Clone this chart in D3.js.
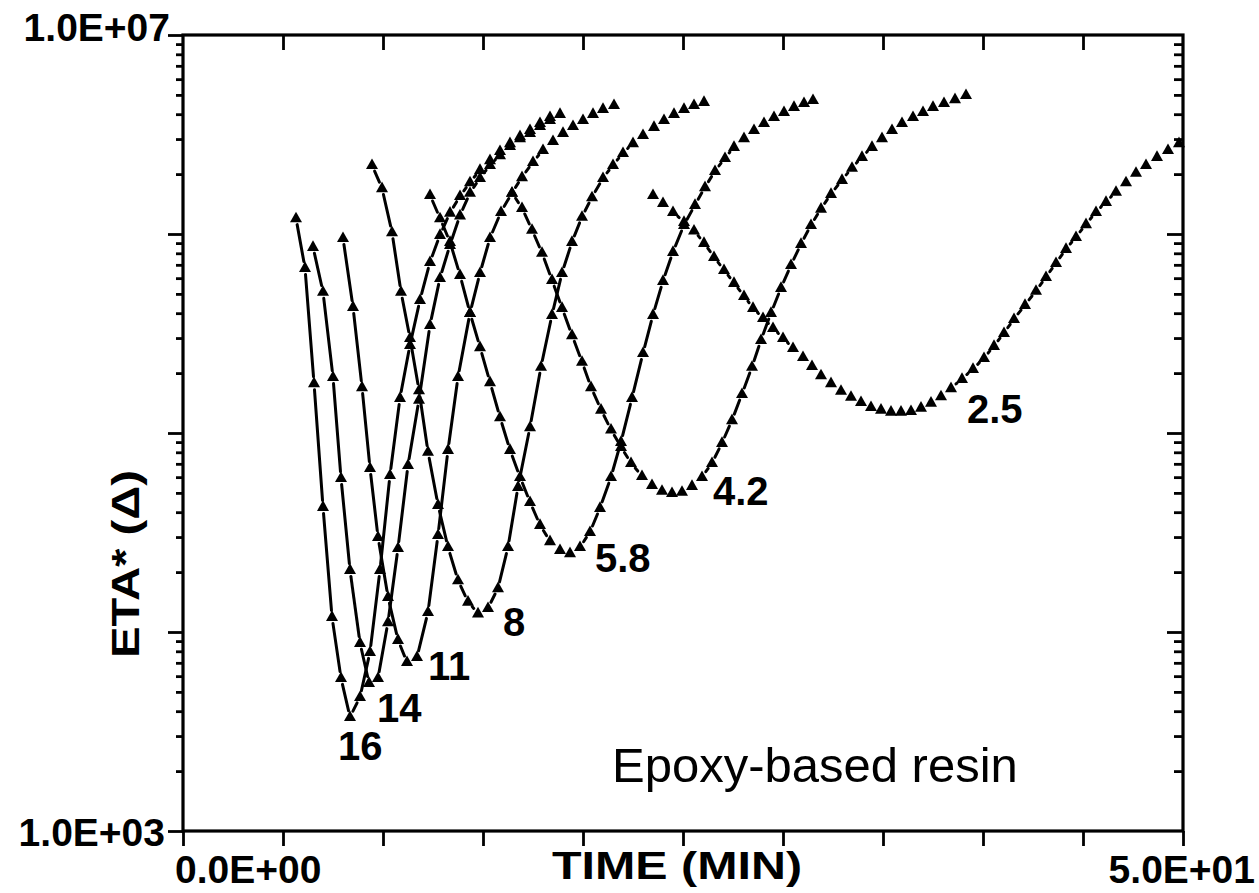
<!DOCTYPE html>
<html>
<head>
<meta charset="utf-8">
<script src="https://cdn.jsdelivr.net/npm/d3@7"></script>
<style>
  html, body { margin: 0; padding: 0; background: #fff; }
  svg { display: block; }
  text { font-family: "Liberation Sans", Arial, Helvetica, sans-serif; fill: #000; }
</style>
</head>
<body>
<svg id="chart" width="1259" height="893"></svg>
<script>
// ---------------- data (time in min, complex viscosity ETA*) ----------------
const seriesNames = ["16", "14", "11", "8", "5.8", "4.2", "2.5"];

const time16 = [5.65,6.10,6.55,7.00,7.45,7.90,8.35,8.85,9.35,9.85,10.35,10.85,11.35,11.85,12.35,12.85,13.35,13.85,14.35,14.85,15.35,15.85,16.35,16.85,17.35,17.85,18.35];
const eta16  = [1.20e6,6.75e5,1.78e5,4.25e4,1.19e4,5.87e3,3.74e3,4.71e3,7.93e3,2.05e4,6.15e4,1.50e5,2.77e5,4.66e5,7.23e5,9.89e5,1.28e6,1.55e6,1.82e6,2.10e6,2.35e6,2.61e6,2.86e6,3.10e6,3.33e6,3.61e6,3.87e6];

const time14 = [6.50,7.00,7.50,7.90,8.35,8.85,9.30,9.75,10.25,10.75,11.25,11.80,12.35,12.85,13.35,13.85,14.35,14.85,15.35,15.85,16.35,16.85,17.35,17.85,18.35,18.85];
const eta14  = [8.61e5,5.12e5,1.91e5,5.94e4,2.05e4,8.81e3,5.55e3,5.87e3,1.12e4,2.64e4,6.90e4,1.47e5,3.49e5,6.01e5,8.81e5,1.24e6,1.61e6,1.91e6,2.22e6,2.49e6,2.77e6,3.03e6,3.22e6,3.49e6,3.74e6,4.01e6];

const time11 = [8.00,8.50,8.95,9.35,9.75,10.25,10.75,11.20,11.70,12.25,12.75,13.25,13.75,14.35,14.85,15.35,15.90,16.45,16.95,17.50,18.00,18.50,19.00,19.50,20.00,20.50,21.00,21.55];
const eta11  = [9.55e5,4.30e5,1.70e5,6.67e4,3.00e4,1.50e4,9.12e3,7.06e3,7.48e3,1.26e4,3.07e4,8.22e4,1.91e5,4.01e5,6.37e5,9.55e5,1.29e6,1.61e6,1.93e6,2.30e6,2.64e6,2.93e6,3.22e6,3.49e6,3.74e6,4.01e6,4.25e6,4.45e6];

const time8 = [9.45,9.95,10.45,10.90,11.35,11.80,12.25,12.75,13.25,13.75,14.25,14.75,15.25,15.75,16.25,16.75,17.35,17.90,18.45,18.95,19.45,19.95,20.45,21.00,21.50,22.00,22.50,23.00,23.55,24.05,24.55,25.05,25.55,26.05];
const eta8  = [2.22e6,1.70e6,1.02e6,5.12e5,3.00e5,1.64e5,8.04e4,4.35e4,2.67e4,1.82e4,1.42e4,1.24e4,1.32e4,1.66e4,2.67e4,5.36e4,1.07e5,2.15e5,3.92e5,6.37e5,9.12e5,1.22e6,1.53e6,1.91e6,2.22e6,2.55e6,2.86e6,3.14e6,3.45e6,3.74e6,4.01e6,4.25e6,4.45e6,4.61e6];

const time58 = [12.35,12.85,13.35,13.85,14.35,14.85,15.35,15.85,16.35,16.85,17.35,17.85,18.35,18.85,19.35,19.85,20.35,20.85,21.40,21.90,22.45,23.00,23.50,24.00,24.50,25.05,25.60,26.10,26.60,27.10,27.55,28.05,28.55,29.05,29.55,30.05,30.55,31.05,31.50];
const eta58  = [1.57e6,1.20e6,9.12e5,6.22e5,4.01e5,2.70e5,1.80e5,1.20e5,8.22e4,6.01e4,4.50e4,3.45e4,2.86e4,2.58e4,2.49e4,2.67e4,3.18e4,4.20e4,6.01e4,9.02e4,1.50e5,2.52e5,3.92e5,5.81e5,8.13e5,1.11e6,1.40e6,1.72e6,2.07e6,2.41e6,2.74e6,3.03e6,3.33e6,3.61e6,3.87e6,4.10e6,4.35e6,4.55e6,4.71e6];

const time42 = [16.45,16.95,17.45,17.95,18.45,18.95,19.45,19.95,20.40,20.90,21.40,21.90,22.40,22.95,23.45,23.95,24.45,24.95,25.45,25.95,26.45,26.95,27.45,27.95,28.45,28.90,29.40,29.90,30.40,30.90,31.40,31.90,32.40,32.95,33.45,33.95,34.45,34.95,35.45,35.95,36.50,37.00,37.50,38.05,38.60,39.15];
const eta42  = [1.61e6,1.35e6,1.05e6,8.04e5,5.87e5,4.25e5,3.10e5,2.28e5,1.70e5,1.31e5,1.04e5,8.51e4,7.06e4,6.08e4,5.48e4,5.12e4,4.99e4,5.06e4,5.42e4,6.01e4,7.06e4,8.91e4,1.16e5,1.57e5,2.15e5,2.93e5,4.01e5,5.36e5,6.98e5,8.91e5,1.11e6,1.34e6,1.59e6,1.87e6,2.15e6,2.44e6,2.74e6,3.03e6,3.33e6,3.61e6,3.87e6,4.10e6,4.35e6,4.55e6,4.76e6,4.99e6];

const time25 = [23.50,24.00,24.50,25.05,25.55,26.05,26.55,27.05,27.55,28.05,28.50,29.00,29.50,30.00,30.50,31.00,31.45,31.90,32.40,32.90,33.40,33.90,34.40,34.90,35.40,35.90,36.40,36.90,37.40,37.90,38.40,38.95,39.50,40.05,40.55,41.05,41.55,42.10,42.65,43.15,43.65,44.15,44.65,45.15,45.65,46.15,46.65,47.15,47.65,48.15,48.70,49.25,49.80];
const eta25  = [1.57e6,1.43e6,1.29e6,1.15e6,1.04e6,9.02e5,7.66e5,6.59e5,5.68e5,4.88e5,4.25e5,3.78e5,3.37e5,3.00e5,2.67e5,2.41e5,2.17e5,1.95e5,1.78e5,1.63e5,1.52e5,1.43e5,1.35e5,1.31e5,1.28e5,1.28e5,1.29e5,1.34e5,1.42e5,1.53e5,1.68e5,1.87e5,2.10e5,2.38e5,2.74e5,3.18e5,3.74e5,4.40e5,5.18e5,6.08e5,7.14e5,8.41e5,9.66e5,1.12e6,1.29e6,1.45e6,1.63e6,1.82e6,2.03e6,2.22e6,2.44e6,2.64e6,2.86e6];

const seriesTimes = [time16, time14, time11, time8, time58, time42, time25];
const seriesEtas  = [eta16, eta14, eta11, eta8, eta58, eta42, eta25];

// curve labels (anchor = left end of baseline, data coords)
const labelTimes = [7.75, 9.7, 12.25, 16.0, 20.6, 26.5, 39.2];
const labelEtas  = [2.28e3, 3.53e3, 5.74e3, 9.55e3, 2.00e4, 4.35e4, 1.12e5];

const xTickValues = [0,5,10,15,20,25,30,35,40,45,50];
const yMajorValues = [1e3,1e4,1e5,1e6,1e7];
const xEndLabels = ["0.0E+00", "5.0E+01"];
const yEndLabels = ["1.0E+03", "1.0E+07"];
const xTitle = "TIME (MIN)";
const yTitle = "ETA* (\u0394)";
const note = "Epoxy-based resin";
const noteTime = 21.45, noteEta = 1.76e3;

// ---------------- drawing ----------------
const svg = d3.select("#chart");
const L = 183, R = 1183, T = 35, B = 831;

const x = d3.scaleLinear().domain([0, 50]).range([L, R]);
const y = d3.scaleLog().domain([1e3, 1e7]).range([B, T]);
const yMinor = y.ticks().filter(v => yMajorValues.indexOf(v) < 0);

function styleAxis(g) {
  g.selectAll(".domain").remove();
  g.selectAll(".tick line").attr("stroke", "#000").attr("stroke-width", 2.8);
  g.selectAll(".tick text").remove();
}

// bottom: outward ticks
svg.append("g").attr("transform", `translate(0,${B})`)
  .call(d3.axisBottom(x).tickValues(xTickValues).tickSize(15).tickSizeOuter(0).tickFormat(""))
  .call(styleAxis);
// top: inward ticks
svg.append("g").attr("transform", `translate(0,${T})`)
  .call(d3.axisTop(x).tickValues(xTickValues.slice(1, -1)).tickSize(-15).tickSizeOuter(0).tickFormat(""))
  .call(styleAxis);
// left: outward ticks
svg.append("g").attr("transform", `translate(${L},0)`)
  .call(d3.axisLeft(y).tickValues(yMajorValues).tickSize(15).tickSizeOuter(0).tickFormat(""))
  .call(styleAxis);
svg.append("g").attr("transform", `translate(${L},0)`)
  .call(d3.axisLeft(y).tickValues(yMinor).tickSize(7).tickSizeOuter(0).tickFormat(""))
  .call(styleAxis);
// right: inward ticks
svg.append("g").attr("transform", `translate(${R},0)`)
  .call(d3.axisRight(y).tickValues(yMajorValues.slice(1, -1)).tickSize(-16).tickSizeOuter(0).tickFormat(""))
  .call(styleAxis);
svg.append("g").attr("transform", `translate(${R},0)`)
  .call(d3.axisRight(y).tickValues(yMinor).tickSize(-9).tickSizeOuter(0).tickFormat(""))
  .call(styleAxis);

// frame
svg.append("rect").attr("x", L).attr("y", T).attr("width", R - L).attr("height", B - T)
  .attr("fill", "none").attr("stroke", "#000").attr("stroke-width", 3.2);

// curves: short connecting segments with gaps around the markers, then triangles
const gap = 6.5;
const tri = "M0,-6.6L6,4L-6,4Z";
const curves = svg.append("g");
seriesNames.forEach((name, i) => {
  const pts = seriesTimes[i].map((t, j) => [x(t), y(seriesEtas[i][j])]);
  const g = curves.append("g");
  for (let j = 0; j < pts.length - 1; j++) {
    const [x1, y1] = pts[j], [x2, y2] = pts[j + 1];
    const len = Math.hypot(x2 - x1, y2 - y1);
    if (len <= 2 * gap + 1) continue;
    const ux = (x2 - x1) / len, uy = (y2 - y1) / len;
    g.append("line")
      .attr("x1", x1 + ux * gap).attr("y1", y1 + uy * gap)
      .attr("x2", x2 - ux * gap).attr("y2", y2 - uy * gap)
      .attr("stroke", "#000").attr("stroke-width", 3).attr("stroke-linecap", "round");
  }
  g.selectAll("path").data(pts).join("path")
    .attr("d", tri)
    .attr("transform", d => `translate(${d[0]},${d[1]})`)
    .attr("fill", "#000");
});

// curve labels
svg.append("g").selectAll("text").data(seriesNames).join("text")
  .attr("x", (d, i) => x(labelTimes[i]))
  .attr("y", (d, i) => y(labelEtas[i]))
  .attr("font-size", 40).attr("font-weight", "bold")
  .text(d => d);

// end tick labels
svg.append("text").attr("x", x(0) - 8).attr("y", B + 52)
  .attr("font-size", 39).attr("font-weight", "bold").text(xEndLabels[0]);
svg.append("text").attr("x", x(50) + 72).attr("y", B + 52).attr("text-anchor", "end")
  .attr("font-size", 39).attr("font-weight", "bold").text(xEndLabels[1]);
svg.append("text").attr("x", L - 18).attr("y", y(1e3) + 15).attr("text-anchor", "end")
  .attr("font-size", 39).attr("font-weight", "bold").text(yEndLabels[0]);
svg.append("text").attr("x", L - 13).attr("y", y(1e7) + 6).attr("text-anchor", "end")
  .attr("font-size", 39).attr("font-weight", "bold").text(yEndLabels[1]);

// axis titles
svg.append("text").attr("x", 552).attr("y", 879)
  .attr("font-size", 38).attr("font-weight", "bold")
  .attr("textLength", 250).attr("lengthAdjust", "spacingAndGlyphs")
  .text(xTitle);
svg.append("text").attr("transform", "translate(139,658) rotate(-90)")
  .attr("font-size", 38).attr("font-weight", "bold")
  .attr("textLength", 188).attr("lengthAdjust", "spacingAndGlyphs")
  .text(yTitle);

// annotation
svg.append("text").attr("x", x(noteTime)).attr("y", y(noteEta))
  .attr("font-size", 49).text(note);
</script>
</body>
</html>
